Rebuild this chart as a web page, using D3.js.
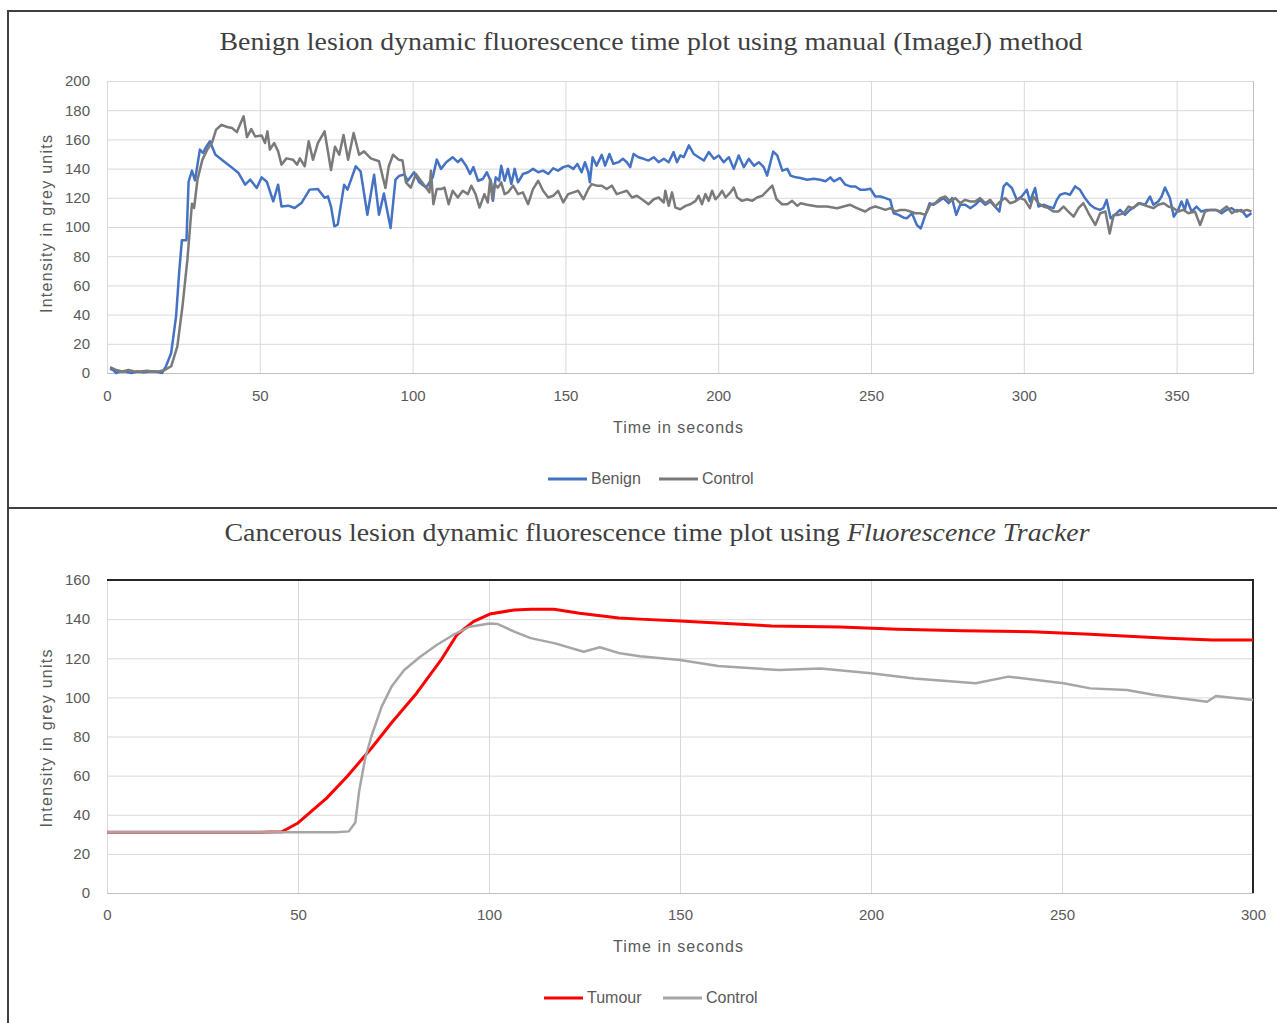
<!DOCTYPE html>
<html>
<head>
<meta charset="utf-8">
<script src="https://cdn.jsdelivr.net/npm/d3@7"></script>
<style>
  body { margin: 0; background: #fff; }
  text { font-family: "Liberation Sans", Arial, sans-serif; }
</style>
</head>
<body>
<div id="chart"></div>
<script>
// ---- data (time in s, intensity in grey units) ----

// top plot: benign lesion, manual (ImageJ) method
const benignPts = [[1,3],[2,2],[3,0],[4,1],[6,1],[8,0],[10,1],[12,0.5],[14,1],[16,1],[18,0],[19.3,4.6],[21,13.7],[22.6,38.8],[23.6,68.5],[24.5,91],[26,91],[26.7,131],[27.8,138.6],[28.8,132],[30.4,153],[31.4,150.7],[32.5,155],[33.7,158.7],[34.4,155],[35.5,149.5],[38.2,145],[40.4,141.5],[43,137],[45.2,129],[46.9,132.4],[49,126.7],[50.6,134],[52.3,131],[54.4,117.6],[56,129],[57.1,114],[59.3,114.6],[61.4,113],[63.6,116.4],[66.3,125.6],[69,126],[71.2,120],[72.3,121],[73.3,114],[74.4,100.5],[75.5,101.6],[77.6,129],[78.7,125.6],[81.4,141.6],[83,138],[85.2,108.4],[87.4,135.8],[89,108.4],[90.6,123],[92.8,99.3],[94.4,132.4],
  [95.6,135],[97.3,136],[98.4,131.7],[100.5,137.5],[102.2,130.6],[104.4,127],[106.6,134],[107.9,146.2],[109.3,139.8],[111,144.4],[113.1,147.8],[114.8,144.4],[115.9,146.7],[117.5,142],[118.8,136.3],[119.9,141],[121.4,131.7],[123,132.9],[124.3,137.5],[125.7,130.6],[126.3,117.9],[127.2,134],[128.3,131.7],[129,142],[130.1,131.7],[131.2,139.8],[132.3,129.4],[133.4,139.8],[134.5,130.6],[136.1,136.3],[137.8,137.5],[139.4,139.8],[141.1,137.5],[142.7,138.6],[144.4,136.3],[146,140.2],[147.6,138.6],[149.3,141],[150.9,142],[152.6,139.8],[153.9,143.2],[155.3,137.5],[156.4,144.4],[157.5,137.5],[158,130.6],[158.9,147.8],[160.2,142],[161.9,149.4],[163,142],[164.4,150],[165.7,143.2],[167.4,144.4],[168.8,146.7],[170.1,144.4],[171.2,141],[172.3,150],[173.9,147.8],[175.6,146.7],[177.2,145.5],[178.9,147.8],[180.5,144.4],[182.2,146.7],[183.8,144.4],[185.4,151.3],[186.5,144.4],[187.6,149],[188.7,147.8],[190.4,155.9],[192,150],[193.6,147.8],[195.3,145.5],[196.9,151.3],[198.6,146.7],[200.2,149],[201.8,144.4],[203.5,147.8],[205.1,139.8],[206.7,149],[208.4,141],[210,146.7],[211.7,142],[213.3,144.4],[214.9,141],[216,135.2],[218,151.7],[219.3,149],[221,138.6],[222.6,139.8],[223.7,135.2],[225.4,134],
  [226.9,133.6],[229.1,132.4],[231.3,133.1],[233.4,132.4],[235.1,131.3],[236.7,134],[237.8,131.3],[238.9,132.4],[239.9,133.6],[241.6,129],[243.2,127.8],[244.9,127.8],[246.5,125.5],[248.1,125.5],[249.8,126.2],[251.4,120.9],[253.1,120.9],[254.7,119.8],[256.3,118.6],[257.4,109.4],[259,108.3],[260.7,106.4],[261.8,106],[263.4,109.4],[265,101.4],[266.3,99],[267.8,108.3],[269.2,116.3],[270.5,115.2],[272.1,117.5],[273.7,119.8],[275.4,116.3],[276.5,119.8],[277.9,108.3],[279.2,115.2],[280.8,115.2],[282.5,112.9],[284.1,115.2],[285.7,118.6],[287.4,115.2],[289,117.5],[290.6,114],[292,110.6],[293.4,127.8],[294.4,130.1],[296.1,126.7],[297.7,118.6],[299.3,120.9],[301,125.5],[302,117.5],[303.7,126.7],[304.8,114],[306.4,115.2],[308.1,114],[309.7,112.9],[310.8,118.6],[311.9,122.1],[313.5,123.2],[315.1,122.1],[316.8,127.8],[318.4,125.5],[320,119.8],[321.7,115.2],[323.3,112.9],[324.9,111.7],[326,112.9],[327.1,118.6],[328.4,106],[329.8,108.3],[331.5,111.7],[333.1,108.3],[334.7,111.7],[336.4,114],[338,116.3],[339.7,115.2],[341.3,120.9],[342.4,115.2],[344,117.5],[345.1,120.9],[346.2,127.1],[347.8,119.8],[349.1,107.1],[350.5,111.7],[351.6,117.5],[352.7,111.7],[353.4,118.6],[354.9,110.6],[356.5,114],[358.1,110.6],[359.8,111.7],[361.4,111.7],[363.1,111.7],[364.7,109.4],[366.3,111.7],[368,112.9],[369.6,110.6],[371.2,111.7],[372.9,107.1],[374.5,109.4]];

const benignControlPts = [[1,4],[2,3],[3,2],[5,1],[7,2],[9,1],[11,1],[13,1.5],[15,1],[17,1],[18.8,2],[21,4.6],[23,18],[24.7,45.7],[26.3,77.6],[27.8,116],[28.5,113],[29.6,132.4],[31.2,146],[32.8,153],[34.4,158],[35.7,166.7],[37.5,170],[39.3,168.5],[40.9,167.8],[42.5,165],[44.7,175.8],[45.8,161.6],[47.2,167],[48.5,162],[50.6,162.6],[51.7,157.5],[52.5,165.5],[53.3,153],[54.7,157.5],[56,151.8],[57.1,142.7],[58.7,147],[60.9,146],[62.2,142.7],[63.1,147],[64.7,141.6],[66,158.7],[67.4,146],[69,157.5],[71.2,165.5],[73.3,139],[74.6,155],[76,149.5],[77.4,163],[78.9,146],[80.7,164.4],[82.5,149.5],[84.1,151.8],[86.3,147],[89,145],[91.1,126.7],[92.2,141.6],[93.6,149.5],[95.5,146],
  [96.7,145.5],[97.8,130.6],[99.4,127],[101.1,136.3],[102.7,131.7],[104.4,127],[105.5,123.7],[106,138.6],[106.8,115.6],[107.9,126],[109.3,126],[110.4,127],[111.8,115.6],[113.1,124.8],[114.8,120.2],[116.4,124.8],[118.1,122.5],[119.2,128.3],[120.6,122.5],[121.9,113.3],[123.5,122.5],[124.6,116.8],[125.4,132.9],[126.1,119],[126.8,129.4],[127.9,127],[129,130.6],[130.1,122.5],[131.2,123.7],[132.9,128.3],[134.5,122.5],[136.1,123.7],[137.8,115.6],[139.4,126],[141.1,131.7],[142.7,124.8],[144.4,120.2],[146,121.4],[147.6,124.8],[149.3,116.8],[150.9,122.5],[152.6,123.7],[154.2,124.8],[155.9,119],[157.5,126],[158.6,129.4],[160.2,128.3],[161.9,128.3],[163.5,126],[165.2,128.3],[166.8,122.5],[168.5,123.7],[170.1,124.8],[171.8,120.2],[173.4,121.4],[175,119],[177.2,115.6],[178.9,119],[180.5,120.2],[182.2,116.8],[182.7,124.8],[183.8,114.5],[184.9,123.7],[186,113.3],[187.6,112.2],[189.3,114.5],[190.9,115.6],[192.6,117.9],[193.6,121.4],[194.7,115.6],[195.8,122.5],[196.9,117.9],[198,124.8],[199.1,119],[200.2,121.4],[201.3,124.8],[202.4,120.2],[204,123.7],[205.1,127],[206.2,120.2],[207.8,117.9],[209.5,119],[211.1,117.9],[212.7,120.2],[214.4,121.4],[216,124.8],[217.7,128.3],[219.1,119],[220.9,115.6],[222.6,115.6],[224.2,117.9],[225.9,114.5],
  [227,116.3],[229.1,115.2],[232.4,114],[235.6,114],[238.9,112.9],[241,114],[243.2,115.2],[245.4,112.9],[248.1,110.6],[249.8,112.9],[251.4,114],[253.1,112.9],[254.7,111.7],[256.3,112.9],[258,110.6],[259.6,111.7],[261.2,111.7],[262.9,110.6],[264.5,109.4],[266.1,109.4],[267.8,108.3],[269.4,115.2],[271,116.3],[272.7,119.8],[274.3,120.9],[275.9,117.5],[277.6,119.8],[279.2,116.3],[280.8,118.6],[282.5,117.5],[284.1,117.5],[285.7,119.8],[287.4,116.3],[289,118.6],[290.6,114],[292.3,117.5],[293.9,119.8],[295.5,116.3],[297.2,117.5],[298.8,119.8],[300.3,118.6],[302,112.9],[303.1,120.9],[304.8,116.3],[306.4,114],[308.1,112.9],[309.7,110.6],[311.3,110.6],[313,114],[314.6,110.6],[316.3,107.1],[317.9,112.9],[319.5,116.3],[321.2,109.4],[323.4,101.4],[325,109.4],[326.7,110.6],[328.1,95.6],[329.4,108.3],[331,108.3],[332.7,109.4],[334.3,114],[335.8,112.9],[337.5,116.3],[339.2,115.2],[340.8,114],[342.4,112.9],[344,115.2],[345.8,116.3],[347.3,114],[349,112.9],[350.6,110.6],[352.2,111.7],[353.9,109.4],[356,110.6],[357.7,101.4],[359.3,110.6],[361,111.7],[362.6,111.7],[364.2,110.6],[366.4,114],[368.1,109.4],[369.7,111.7],[371.3,110.6],[373,111.7],[374.5,110.6]];

// bottom plot: cancerous lesion, Fluorescence Tracker
const tumourPts = [[0,31],[10,31],[20,31],[30,31],[40,31],[45.8,31.3],[50,35.8],[57.5,48.5],[62.8,59.4],[69.2,74],[74.5,87],[81,102],[87.4,119],[91.6,132],[95.9,138.7],[100.2,142.6],[106.6,144.7],[111,145],[117,145],[123.7,143],[134,140.6],[139.5,140],[150,139],[174,136.5],[192,136],[207,134.8],[224,134.1],[242,133.6],[256,132.4],[270,131],[277.7,130.2],[289.4,129.3],[300,129.3]];

const tumourControlPts = [[0,31],[10,31],[20,31],[30,31],[40,31],[50,31],[60,31],[63.3,31.5],[65,36],[66,52],[67.6,69],[69.2,80],[71.9,95.3],[74.5,105.5],[77.8,114],[82,120.8],[86.3,126.8],[90.6,131.9],[94.9,136.1],[100.2,137.8],[102.3,137.5],[106.6,133.6],[110.9,130.3],[117.3,127.6],[124.8,123.3],[129,125.6],[134.3,122.5],[139.5,121],[150,119.1],[160,116],[176,114],[186.8,114.8],[200,112.3],[211.3,109.7],[227.4,107.2],[236,110.6],[250.4,107.2],[257.4,104.6],[267,103.8],[274.3,101.2],[288,97.8],[290.3,100.7],[300,98.7]];

const topXTicks = [0, 50, 100, 150, 200, 250, 300, 350];
const topYTicks = [0, 20, 40, 60, 80, 100, 120, 140, 160, 180, 200];
const botXTicks = [0, 50, 100, 150, 200, 250, 300];
const botYTicks = [0, 20, 40, 60, 80, 100, 120, 140, 160];

// ---- page ----
const width = 1277;
const height = 1023;
const labelCol = "#595959";
const gridCol = "#d9d9d9";

const svg = d3.select("#chart")
  .append("svg")
  .attr("width", width)
  .attr("height", height);

// outer frame of the two stacked figures
svg.append("path")
  .attr("d", `M${width},11 H8 V${height} M8,508 H${width}`)
  .attr("fill", "none")
  .attr("stroke", "#3f3f3f")
  .attr("stroke-width", 2);

function drawPanel(p) {
  const x = d3.scaleLinear().domain(p.xDomain).range([p.left, p.right]);
  const y = d3.scaleLinear().domain(p.yDomain).range([p.bottom, p.top]);

  // horizontal grid + y labels
  const gy = svg.append("g")
    .attr("transform", `translate(${p.left},0)`)
    .call(d3.axisLeft(y).tickValues(p.yTicks).tickSize(-(p.right - p.left)).tickPadding(17));
  gy.select(".domain").remove();
  gy.selectAll("line").attr("stroke", gridCol);
  gy.selectAll("text").attr("fill", labelCol).attr("font-size", 15)
    .attr("font-family", "Liberation Sans, Arial, sans-serif");

  // vertical grid + x labels
  const gx = svg.append("g")
    .attr("transform", `translate(0,${p.bottom})`)
    .call(d3.axisBottom(x).tickValues(p.xTicks).tickSize(-(p.bottom - p.top)).tickPadding(p.xPad));
  gx.select(".domain").attr("stroke", "#bfbfbf");
  gx.selectAll("line").attr("stroke", gridCol);
  gx.selectAll("text").attr("fill", labelCol).attr("font-size", 15)
    .attr("font-family", "Liberation Sans, Arial, sans-serif");

  if (p.boxed) {
    svg.append("path")
      .attr("d", `M${p.left},${p.top} H${p.right} V${p.bottom}`)
      .attr("fill", "none")
      .attr("stroke", "#262626")
      .attr("stroke-width", 2);
  }

  const line = d3.line().x(d => x(d[0])).y(d => y(d[1]));
  p.series.forEach(s => {
    svg.append("path")
      .datum(s.pts)
      .attr("d", line)
      .attr("fill", "none")
      .attr("stroke", s.color)
      .attr("stroke-width", s.w)
      .attr("stroke-linejoin", "round");
  });

  // title
  const title = svg.append("text")
    .attr("x", p.titleX)
    .attr("y", p.titleY)
    .attr("text-anchor", "middle")
    .attr("font-size", 26)
    .attr("fill", "#404040")
    .attr("textLength", p.titleLen)
    .attr("lengthAdjust", "spacingAndGlyphs")
    .style("font-family", "Liberation Serif, Times New Roman, serif");
  p.title.forEach(t => {
    title.append("tspan").text(t.s).attr("font-style", t.italic ? "italic" : null);
  });

  // axis titles
  svg.append("text")
    .attr("transform", `translate(52,${(p.top + p.bottom) / 2 + p.yLabelShift}) rotate(-90)`)
    .attr("text-anchor", "middle")
    .attr("font-size", 16)
    .attr("fill", labelCol)
    .attr("textLength", 178)
    .text("Intensity in grey units");

  svg.append("text")
    .attr("x", 678)
    .attr("y", p.xLabelY)
    .attr("text-anchor", "middle")
    .attr("font-size", 16)
    .attr("fill", labelCol)
    .attr("textLength", 130)
    .text("Time in seconds");

  // legend
  p.series.forEach(s => {
    svg.append("line")
      .attr("x1", s.lx).attr("x2", s.lx + 39)
      .attr("y1", p.legendY).attr("y2", p.legendY)
      .attr("stroke", s.color)
      .attr("stroke-width", 3);
    svg.append("text")
      .attr("x", s.lx + 43)
      .attr("y", p.legendY + 5)
      .attr("font-size", 16)
      .attr("fill", labelCol)
      .text(s.name);
  });
}

drawPanel({
  xDomain: [0, 375], yDomain: [0, 200],
  left: 107, right: 1253, top: 81, bottom: 373,
  xTicks: topXTicks, yTicks: topYTicks, xPad: 17,
  boxed: false,
  title: [{ s: "Benign lesion dynamic fluorescence time plot using manual (ImageJ) method" }],
  titleX: 651, titleY: 50, titleLen: 863,
  yLabelShift: -3,
  xLabelY: 433,
  legendY: 479,
  series: [
    { name: "Benign", pts: benignPts, color: "#4472c4", w: 2.5, lx: 548 },
    { name: "Control", pts: benignControlPts, color: "#7a7a7a", w: 2.5, lx: 659 }
  ]
});

drawPanel({
  xDomain: [0, 300], yDomain: [0, 160],
  left: 107, right: 1253, top: 580, bottom: 893,
  xTicks: botXTicks, yTicks: botYTicks, xPad: 16,
  boxed: true,
  title: [{ s: "Cancerous lesion dynamic fluorescence time plot using " }, { s: "Fluorescence Tracker", italic: true }],
  titleX: 657, titleY: 541, titleLen: 865,
  yLabelShift: 2,
  xLabelY: 952,
  legendY: 998,
  series: [
    { name: "Tumour", pts: tumourPts, color: "#ff0000", w: 3, lx: 544 },
    { name: "Control", pts: tumourControlPts, color: "#a6a6a6", w: 2.5, lx: 663 }
  ]
});
</script>
</body>
</html>
